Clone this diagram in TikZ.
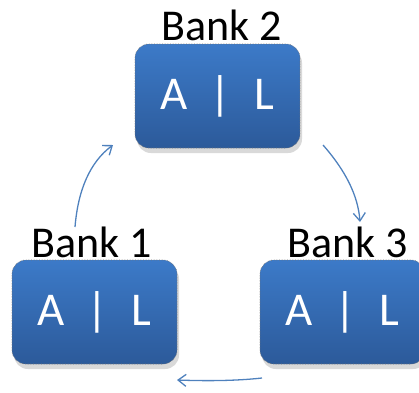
\documentclass[tikz,border=0pt]{standalone}
\usepackage{fontspec}
\setmainfont{Carlito}
\usetikzlibrary{arrows.meta,shadows}
\definecolor{boxtop}{RGB}{60,122,200}
\definecolor{boxbot}{RGB}{44,90,154}
\definecolor{arrowblue}{RGB}{79,129,189}
\begin{document}
\begin{tikzpicture}[x=1pt,y=-1pt,
  bankbox/.style={rounded corners=14pt, top color=boxtop, bottom color=boxbot,
    draw=black!55, densely dotted, line width=0.6pt,
    minimum width=165pt, minimum height=104pt, inner sep=0pt,
    text=white, font=\fontsize{47}{50}\selectfont,
    drop shadow={shadow xshift=2pt, shadow yshift=-5pt, fill=black!25, opacity=0.6}},
  banklabel/.style={anchor=base, font=\fontsize{44}{48}\selectfont, text=black, inner sep=0pt},
  flow/.style={draw=arrowblue, line width=1.3pt, -{Straight Barb[length=8pt,width=12pt,line width=1.3pt]}}]
\useasboundingbox (0,0) rectangle (419,392);
\begin{scope}
\clip (0,0) rectangle (419,392);
\node[bankbox] (b2) at (217.5,96) {A\hspace{22pt}|\hspace{23pt}L};
\node[bankbox] (b1) at (94.5,312) {A\hspace{22pt}|\hspace{23pt}L};
\node[bankbox] (b3) at (342.5,312) {A\hspace{22pt}|\hspace{23pt}L};
\end{scope}
\node[banklabel] (l2) at (222,40) {Bank 2};
\node[banklabel] (l1) at (92,257) {Bank 1};
\node[banklabel] (l3) at (348,257) {Bank 3};
\coordinate (a1s) at (75,227);
\coordinate (a1e) at (113,145);
\coordinate (a2s) at (323,145);
\coordinate (a2e) at (360,222);
\coordinate (a3s) at (262,378);
\coordinate (a3e) at (177,380);
\draw[flow] (a1s) .. controls (78,190) and (90,162) .. (a1e);
\draw[flow] (a2s) .. controls (345,170) and (358,195) .. (a2e);
\draw[flow] (a3s) .. controls (235,381) and (205,381) .. (a3e);
\end{tikzpicture}
\end{document}
